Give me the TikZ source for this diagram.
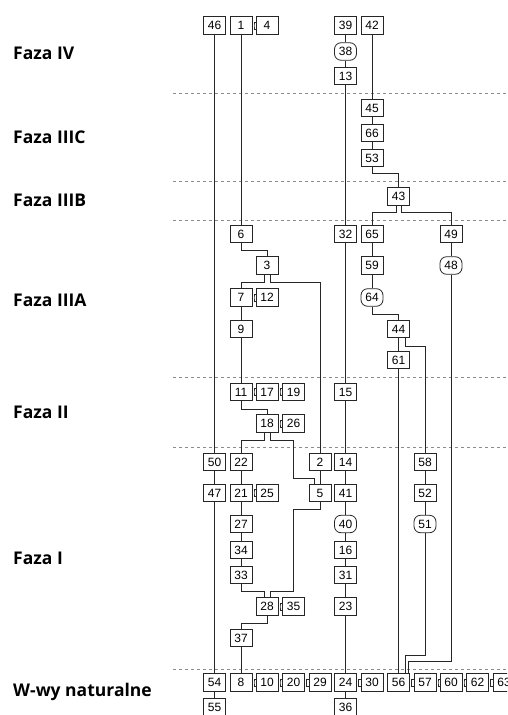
\documentclass[tikz,border=0pt]{standalone}
\usepackage{fontspec}
\setmainfont{Liberation Sans}
\newfontfamily\labfont{Open Sans}
\begin{document}
\begin{tikzpicture}[x=1pt,y=-1pt,
  box/.style={draw=black!85, fill=white, line width=0.8pt, minimum width=22pt, minimum height=17.5pt, inner sep=0pt, font=\fontsize{12}{12}\selectfont},
  rbox/.style={box, rounded corners=6.5pt},
  link/.style={draw=black!85, line width=0.8pt},
  sep/.style={draw=black!45, line width=0.8pt, dash pattern=on 3pt off 3pt},
  phase/.style={anchor=base west, inner sep=0pt, font=\labfont\bfseries\fontsize{17.5}{20}\selectfont}]
\useasboundingbox (0,0) rectangle (507,715);
\clip (0,0) rectangle (507,715);
\newcommand\eqlink[2]{\draw[link] ([yshift=3.5pt]#2.west) -| ([xshift=1.6pt]#1.east) |- ([yshift=-3.5pt]#2.west);}

% phase separators
\foreach \yy in {93.3,181.7,220,377.3,447.3,669} \draw[sep] (173,\yy) -- (507,\yy);

% phase labels
\node[phase] (pIV) at (13,59.3) {Faza IV};
\node[phase] (pIIIC) at (13,143.5) {Faza IIIC};
\node[phase] (pIIIB) at (13,206.5) {Faza IIIB};
\node[phase] (pIIIA) at (13,306.5) {Faza IIIA};
\node[phase] (pII) at (13,418.5) {Faza II};
\node[phase] (pI) at (13,564.5) {Faza I};
\node[phase] (pW) at (13,696.7) {W-wy naturalne};

% row 1
\node[box] (n46) at (214.5,25.5) {46};
\node[box] (n1) at (241,25.5) {1};
\node[box] (n4) at (267,25.5) {4};
\node[box] (n39) at (345.5,25.5) {39};
\node[box] (n42) at (372,25.5) {42};
\node[rbox] (n38) at (345.5,51.5) {38};
\node[box] (n13) at (345.5,76) {13};
% IIIC
\node[box] (n45) at (372,108) {45};
\node[box] (n66) at (372,133) {66};
\node[box] (n53) at (372,158) {53};
% IIIB
\node[box] (n43) at (398.5,196.5) {43};
% IIIA
\node[box] (n6) at (241,234) {6};
\node[box] (n32) at (345.5,234) {32};
\node[box] (n65) at (372,234) {65};
\node[box] (n49) at (451,234) {49};
\node[box] (n3) at (267,265.5) {3};
\node[box] (n59) at (372,265.5) {59};
\node[rbox] (n48) at (451,265.5) {48};
\node[box] (n7) at (241,297.5) {7};
\node[box] (n12) at (267,297.5) {12};
\node[rbox] (n64) at (372,297.5) {64};
\node[box] (n9) at (241,329) {9};
\node[box] (n44) at (398.5,329) {44};
\node[box] (n61) at (398.5,360) {61};
% II
\node[box] (n11) at (241,392) {11};
\node[box] (n17) at (267,392) {17};
\node[box] (n19) at (293.5,392) {19};
\node[box] (n15) at (345.5,392) {15};
\node[box] (n18) at (267,423.5) {18};
\node[box] (n26) at (293.5,423.5) {26};
% I
\node[box] (n50) at (214.5,462) {50};
\node[box] (n22) at (241,462) {22};
\node[box] (n2) at (320,462) {2};
\node[box] (n14) at (345.5,462) {14};
\node[box] (n58) at (425,462) {58};
\node[box] (n47) at (214.5,493) {47};
\node[box] (n21) at (241,493) {21};
\node[box] (n25) at (267,493) {25};
\node[box] (n5) at (320,493) {5};
\node[box] (n41) at (345.5,493) {41};
\node[box] (n52) at (425,493) {52};
\node[box] (n27) at (241,524) {27};
\node[rbox] (n40) at (345.5,524) {40};
\node[rbox] (n51) at (425,524) {51};
\node[box] (n34) at (241,550) {34};
\node[box] (n16) at (345.5,550) {16};
\node[box] (n33) at (241,575) {33};
\node[box] (n31) at (345.5,575) {31};
\node[box] (n28) at (267,606.5) {28};
\node[box] (n35) at (293.5,606.5) {35};
\node[box] (n23) at (345.5,606.5) {23};
\node[box] (n37) at (241,638) {37};
% natural
\node[box] (n54) at (214.5,682.5) {54};
\node[box] (n8) at (241,682.5) {8};
\node[box] (n10) at (267,682.5) {10};
\node[box] (n20) at (293.5,682.5) {20};
\node[box] (n29) at (320,682.5) {29};
\node[box] (n24) at (345.5,682.5) {24};
\node[box] (n30) at (372,682.5) {30};
\node[box] (n56) at (398.5,682.5) {56};
\node[box] (n57) at (425,682.5) {57};
\node[box] (n60) at (451,682.5) {60};
\node[box] (n62) at (477.5,682.5) {62};
\node[box] (n63) at (504,682.5) {63};
\node[box] (n55) at (214.5,707.5) {55};
\node[box] (n36) at (345.5,707.5) {36};

% straight chains
\draw[link] (n46) -- (n50);
\draw[link] (n50) -- (n47);
\draw[link] (n47) -- (n54);
\draw[link] (n54) -- (n55);
\draw[link] (n1) -- (n6);
\draw[link] (n7) -- (n9);
\draw[link] (n9) -- (n11);
\draw[link] (n22) -- (n21);
\draw[link] (n21) -- (n27);
\draw[link] (n27) -- (n34);
\draw[link] (n34) -- (n33);
\draw[link] (n37) -- (n8);
\draw[link] (n2) -- (n5);
\draw[link] (n39) -- (n38);
\draw[link] (n38) -- (n13);
\draw[link] (n13) -- (n32);
\draw[link] (n32) -- (n15);
\draw[link] (n15) -- (n14);
\draw[link] (n14) -- (n41);
\draw[link] (n41) -- (n40);
\draw[link] (n40) -- (n16);
\draw[link] (n16) -- (n31);
\draw[link] (n31) -- (n23);
\draw[link] (n23) -- (n24);
\draw[link] (n24) -- (n36);
\draw[link] (n42) -- (n45);
\draw[link] (n45) -- (n66);
\draw[link] (n66) -- (n53);
\draw[link] (n65) -- (n59);
\draw[link] (n59) -- (n64);
\draw[link] (n49) -- (n48);
\draw[link] (n44) -- (n61);
\draw[link] (n61) -- (n56);
\draw[link] (n58) -- (n52);
\draw[link] (n52) -- (n51);

% routed connectors
\draw[link] (n53.south) -- ++(0,6.6) -| (n43.north);
\draw[link] ([xshift=-2pt]n43.south) -- ++(0,6.8) -| (n65.north);
\draw[link] ([xshift=3pt]n43.south) -- ++(0,6.8) -| (n49.north);
\draw[link] (n6.south) -- ++(0,7.7) -| (n3.north);
\draw[link] ([xshift=-2.5pt]n3.south) -- ++(0,7.7) -| (n7.north);
\draw[link] ([xshift=3.5pt]n3.south) -- ++(0,7.7) -| (n2.north);
\draw[link] (n11.south) -- ++(0,8) -| (n18.north);
\draw[link] ([xshift=-2.5pt]n18.south) -- ++(0,7.7) -| (n22.north);
\draw[link] ([xshift=3.5pt]n18.south) -- ++(0,7.7) -| (293.5,478.3) -| ([xshift=-5.5pt]n5.north);
\draw[link] (n5.south) -- ++(0,7.6) -| (293.5,591) -| ([xshift=3.5pt]n28.north);
\draw[link] (n33.south) -- ++(0,7.3) -| ([xshift=-3pt]n28.north);
\draw[link] (n28.south) -- ++(0,7.7) -| (n37.north);
\draw[link] (n64.south) -- ++(0,7.8) -| (n44.north);
\draw[link] ([xshift=6.5pt]n44.south) -- ++(0,8) -| (n58.north);
\draw[link] (n51.south) -- ++(0,122.3) -| ([xshift=6.5pt]n56.north);
\draw[link] (n48.south) -- ++(0,386.3) -| ([xshift=10pt]n56.north);

% contemporaneous links
\eqlink{n1}{n4}
\eqlink{n7}{n12}
\eqlink{n11}{n17}
\eqlink{n17}{n19}
\eqlink{n18}{n26}
\eqlink{n21}{n25}
\eqlink{n28}{n35}
\eqlink{n8}{n10}
\eqlink{n10}{n20}
\eqlink{n20}{n29}
\eqlink{n24}{n30}
\eqlink{n56}{n57}
\eqlink{n57}{n60}
\eqlink{n60}{n62}
\eqlink{n62}{n63}
\end{tikzpicture}
\end{document}
